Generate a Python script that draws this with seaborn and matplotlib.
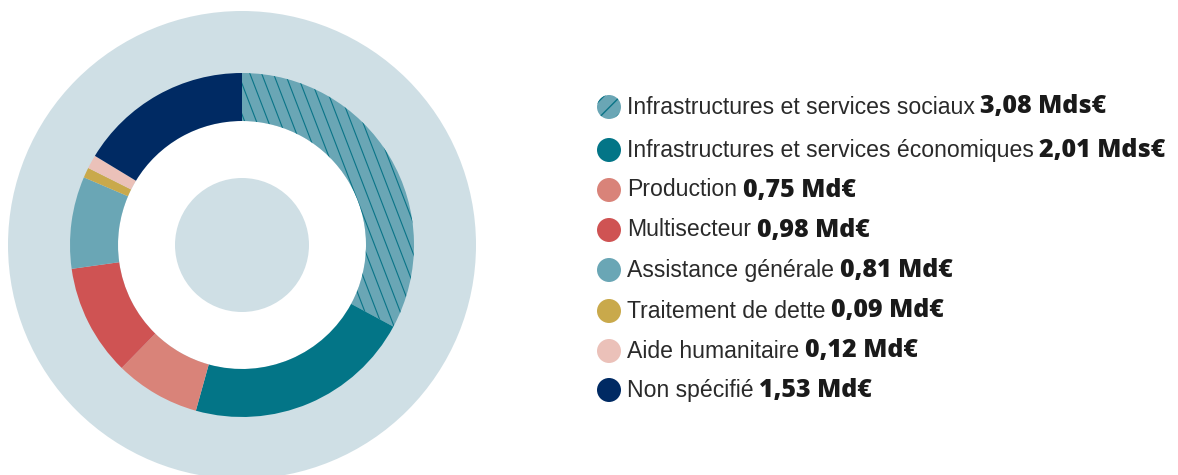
import numpy as np
import matplotlib
matplotlib.use("Agg")
import matplotlib.pyplot as plt
from matplotlib.patches import Circle
from matplotlib import font_manager
import seaborn as sns

categories = [
    "Infrastructures et services sociaux",
    "Infrastructures et services économiques",
    "Production",
    "Multisecteur",
    "Assistance générale",
    "Traitement de dette",
    "Aide humanitaire",
    "Non spécifié",
]
values = [3.08, 2.01, 0.75, 0.98, 0.81, 0.09, 0.12, 1.53]
value_labels = ["3,08 Mds€", "2,01 Mds€", "0,75 Md€", "0,98 Md€",
                "0,81 Md€", "0,09 Md€", "0,12 Md€", "1,53 Md€"]
colors = ["#6aa6b5", "#037587", "#d98379", "#cf5353",
          "#6aa6b5", "#c9a94b", "#ebc1b9", "#002a63"]

sns.set_theme(style="white")
names = {f.name for f in font_manager.fontManager.ttflist}
label_font = 'Liberation Sans Narrow' if 'Liberation Sans Narrow' in names else 'Liberation Sans'
plt.rcParams['font.family'] = [label_font, 'DejaVu Sans']

fig = plt.figure(figsize=(11.78, 4.75), dpi=100)
ax = fig.add_axes([0, 0, 1, 1])

H = 475
cx, cy = 242, H - 245
bg = "#cfdfe5"
ax.add_patch(Circle((cx, cy), 234, color=bg, lw=0, zorder=0))
ax.add_patch(Circle((cx, cy), 124, color="white", lw=0, zorder=1))
ax.add_patch(Circle((cx, cy), 67, color=bg, lw=0, zorder=2))

wedges, _ = ax.pie(values, colors=colors, startangle=90, counterclock=False,
                   radius=172, center=(cx, cy), frame=True,
                   wedgeprops=dict(width=48, linewidth=0))
for w in wedges:
    w.set_zorder(3)

# hatch lines on the first wedge (steep diagonal)
ang = np.deg2rad(21)
d = np.array([np.sin(ang), -np.cos(ang)])
nrm = np.array([np.cos(ang), np.sin(ang)])
spacing = 11.0
for k in np.arange(-40, 41):
    p0 = np.array([cx + 3, cy]) + nrm * k * spacing
    p1 = p0 - d * 400
    p2 = p0 + d * 400
    ln, = ax.plot([p1[0], p2[0]], [p1[1], p2[1]], color="#0a7487", lw=0.8, zorder=4)
    ln.set_clip_path(wedges[0])

ax.set_xlim(0, 1178)
ax.set_ylim(0, H)
ax.set_aspect('equal')
ax.axis('off')

# legend
rows_y = [107, 150, 190, 230, 270, 311, 351, 390]
for i, (cat, val, col, yy) in enumerate(zip(categories, value_labels, colors, rows_y)):
    y = H - yy
    if i == 0:
        c = Circle((609, y), 12, facecolor=col, edgecolor="#0a7487", hatch="//", lw=0, zorder=5)
    else:
        c = Circle((609, y), 12, facecolor=col, lw=0, zorder=5)
    ax.add_patch(c)
    t = ax.text(627, y, cat, fontsize=16.6, color="#2a2a2a", va="center", ha="left",
                family=[label_font, 'DejaVu Sans'])
    ax.annotate(val, xy=(1, 0.5), xycoords=t, xytext=(4, 0), textcoords="offset points",
                va="center", ha="left", fontsize=18, fontweight=800,
                color="#1a1a1a", family=['Open Sans', 'DejaVu Sans'])

fig.savefig("out.png", dpi=100)
